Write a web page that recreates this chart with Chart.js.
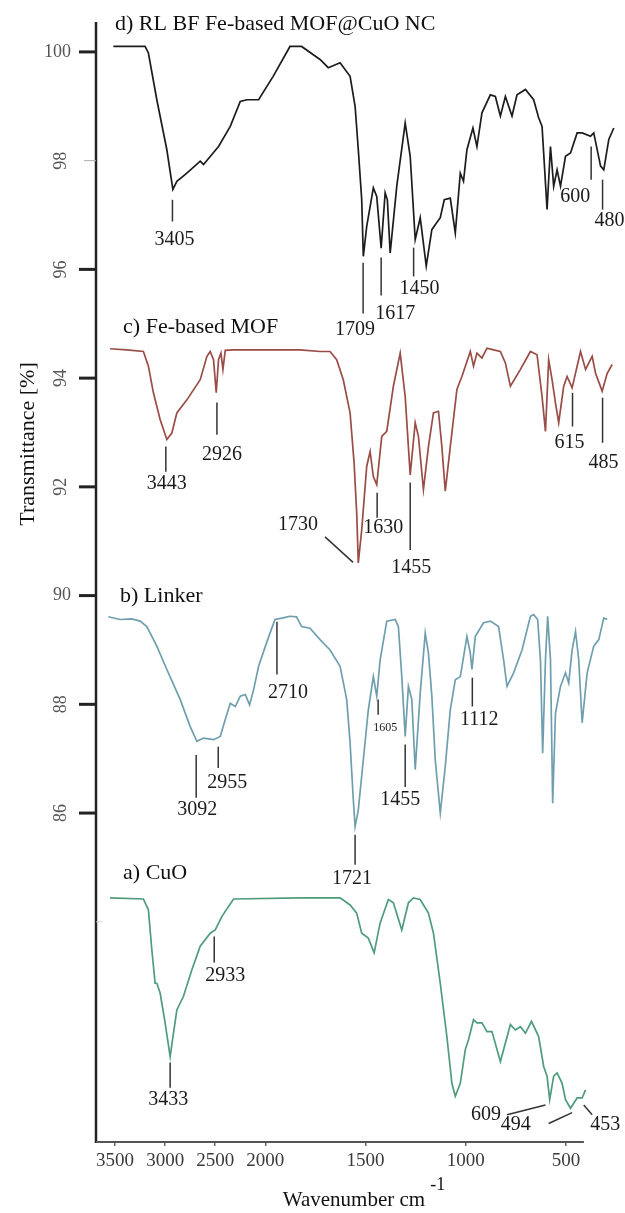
<!DOCTYPE html>
<html><head><meta charset="utf-8">
<script src="https://cdn.jsdelivr.net/npm/chart.js@4.4.1/dist/chart.umd.min.js"></script>
<style>html,body{margin:0;padding:0;background:#fff;}canvas{display:block;}</style>
</head><body>
<canvas id="c" width="625" height="1213"></canvas>
<script>
// ---- axis values ----
const TICK_WN = [3500, 3000, 2500, 2000, 1500, 1000, 500];
const Y_TICKS = [100, 98, 96, 94, 92, 90, 88, 86];
const X_RANGE_WN = [3690, 255];
const Y_RANGE = [79.95, 100.55];

// ---- series titles ----
const SERIES_NAMES = ['d) RL BF Fe-based MOF@CuO NC', 'c) Fe-based MOF', 'b) Linker', 'a) CuO'];

// ---- d) RL BF Fe-based MOF@CuO NC ----
const D_WN = [3517,3200,3167,3083,2983,2923,2883,2783,2650,2617,2467,2350,2250,2183,2067,1961,1877,1819,1727,1686,1627,1577,1552,1536,1519,1511,1494,1461,1444,1422,1402,1391,1377,1344,1302,1277,1252,1227,1197,1169,1152,1127,1107,1077,1052,1027,1011,994,964,944,919,877,852,827,802,769,744,702,661,636,619,594,577,561,544,527,502,477,444,419,377,361,327,311,286,261];
const D_T = [100.10,100.10,99.98,99.12,98.20,97.47,97.62,97.77,97.99,97.93,98.26,98.63,99.09,99.12,99.12,99.55,100.10,100.10,99.86,99.71,99.80,99.55,99.00,98.20,97.28,96.24,96.79,97.50,97.34,96.39,97.41,97.28,96.30,97.53,98.69,98.08,96.55,96.95,96.06,96.73,96.82,96.95,97.28,97.31,96.67,97.77,97.62,98.20,98.60,98.26,98.88,99.21,99.18,98.82,99.18,98.82,99.21,99.31,99.12,98.79,98.63,97.10,98.26,97.53,97.83,97.53,98.08,98.14,98.51,98.51,98.45,98.51,97.90,97.83,98.39,98.60];

// ---- c) Fe-based MOF ----
const C_WN = [3550,3383,3217,3167,3117,3050,2983,2933,2883,2783,2650,2583,2550,2517,2490,2467,2443,2423,2400,2317,2050,1827,1727,1677,1644,1611,1577,1557,1544,1536,1519,1494,1477,1461,1444,1419,1394,1361,1327,1302,1277,1252,1236,1211,1186,1161,1136,1119,1102,1077,1044,1019,977,961,944,919,894,861,827,802,777,727,677,644,619,602,586,569,552,536,511,494,469,427,402,369,352,319,294,269];
const C_T = [94.54,94.52,94.49,94.22,93.73,93.24,92.87,92.99,93.36,93.60,93.97,94.40,94.49,94.34,93.73,94.34,94.46,94.16,94.51,94.52,94.52,94.52,94.49,94.49,94.34,93.97,93.36,92.44,91.52,90.60,91.21,92.38,92.65,92.19,92.04,92.93,93.02,93.85,94.46,93.66,92.22,93.18,92.93,91.95,92.74,93.36,93.39,92.74,91.92,92.74,93.79,94.03,94.49,94.22,94.46,94.37,94.55,94.52,94.49,94.28,93.85,94.16,94.49,94.43,93.66,93.02,94.34,93.97,93.54,93.18,93.85,94.03,93.82,94.49,94.16,94.40,94.09,93.76,94.09,94.25];

// ---- b) Linker ----
const B_WN = [3567,3450,3333,3250,3183,3083,2983,2850,2750,2683,2617,2517,2450,2400,2350,2300,2250,2200,2157,2117,2067,1994,1952,1911,1877,1844,1819,1777,1727,1677,1627,1594,1577,1561,1552,1536,1511,1486,1461,1444,1427,1394,1352,1336,1319,1302,1286,1269,1252,1227,1202,1186,1169,1152,1127,1102,1077,1052,1027,994,977,969,952,911,877,836,811,794,761,719,677,661,641,627,616,602,591,577,566,552,527,502,486,469,452,436,419,394,361,336,311,294];
const B_T = [89.61,89.56,89.57,89.53,89.43,89.07,88.64,88.09,87.59,87.32,87.38,87.35,87.41,87.72,88.02,87.96,88.15,88.18,87.99,88.27,88.70,89.13,89.56,89.59,89.62,89.61,89.43,89.40,89.19,89.00,88.70,88.09,87.29,86.25,85.75,86.06,86.98,87.90,88.51,88.15,88.82,89.53,89.56,89.43,88.51,87.41,88.33,88.09,86.80,88.21,89.31,88.94,88.15,86.98,86.00,86.86,87.90,88.45,88.51,89.25,88.94,88.64,89.25,89.50,89.53,89.43,88.82,88.33,88.58,89.00,89.62,89.65,89.56,88.82,87.10,88.82,89.62,88.82,86.18,87.84,88.33,88.58,88.39,89.00,89.34,88.82,87.66,88.58,89.07,89.19,89.59,89.56];

// ---- a) CuO ----
const A_WN = [3550,3217,3167,3133,3100,3083,3050,3000,2950,2917,2883,2817,2733,2650,2550,2500,2433,2317,1827,1627,1577,1544,1519,1486,1457,1427,1386,1361,1319,1286,1261,1227,1186,1161,1127,1094,1069,1052,1027,1002,986,961,944,919,894,869,827,802,777,752,727,702,672,636,611,594,581,561,544,519,502,477,444,419,402];
const A_T = [84.44,84.42,84.22,83.49,82.87,82.87,82.69,82.14,81.52,81.95,82.38,82.63,83.12,83.55,83.79,83.85,84.10,84.42,84.44,84.44,84.31,84.16,83.79,83.70,83.43,83.98,84.41,84.35,83.85,84.35,84.44,84.41,84.16,83.79,82.87,81.89,81.03,80.79,81.03,81.65,81.83,82.20,82.14,82.14,81.98,81.98,81.43,81.77,82.11,82.01,82.07,81.95,82.17,81.89,81.34,81.16,80.73,81.16,81.22,81.03,80.73,80.57,80.76,80.76,80.91];

// ---- peak labels: text, anchor values of the leader line (wavenumber, transmittance) ----
const PEAK_TEXT = ['3405','1709','1617','1450','600','480','3443','2926','1730','1630','1455','615','485','3092','2955','2710','1605','1455','1112','1721','2933','3433','609','494','453'];
const PEAK_WN1 = [2927,1512,1422,1260,374,317,2993,2483,1562,1442,1277,467,317,2690,2470,1942,1437,1302,967,1552,2510,2950,602,469,411];
const PEAK_T1  = [97.28,96.12,96.22,96.40,98.26,97.65,92.74,93.55,90.61,91.89,92.08,93.73,93.64,87.07,87.22,89.52,88.09,87.26,88.49,85.60,83.73,81.41,80.63,80.49,80.63];
const PEAK_WN2 = [2927,1512,1422,1260,374,317,2993,2483,1702,1442,1277,467,317,2690,2470,1942,1437,1302,967,1552,2510,2950,794,586,369];
const PEAK_T2  = [96.88,95.19,95.52,95.87,97.65,97.10,92.28,92.96,91.08,91.43,90.84,93.11,92.81,86.28,86.83,88.55,87.81,86.48,87.96,85.05,83.25,80.95,80.45,80.29,80.45];

// ---- layout / style (not data) ----
const PEAK_OFFSET = [[2,18],[-8,16],[14,18],[6,12],[-16,17],[7,11],[1,12],[5,20],[-27,-12],[6,10],[1,18],[-3,16],[1,20],[1,12],[9,15],[11,18],[7,13],[-5,13],[7,13],[-3,14],[11,13],[-2,12],[-21,0],[-33,1],[13,10]];
const PEAK_SMALL = ['1605'];
const SERIES_TITLE_POS = [[3500,100.50],[3420,94.93],[3450,89.98],[3420,84.90]];
const COLORS = ['#1c1c1c','#9a4c46','#6f9fae','#4f9c7c'];
const SERIF = "'Liberation Serif','DejaVu Serif',serif";

function toAxis(wn) { return wn >= 2000 ? (3500 - wn) / 500 : 3 + (2000 - wn) / 250; }
function pts(wn, t) { return wn.map((w, i) => ({ x: toAxis(w), y: t[i] })); }

const overlay = {
  id: 'overlay',
  afterDraw(chart) {
    const ctx = chart.ctx, xs = chart.scales.x, ys = chart.scales.y, ca = chart.chartArea;
    const px = w => xs.getPixelForValue(toAxis(w));
    const py = t => ys.getPixelForValue(t);
    ctx.save();
    // axes lines
    ctx.strokeStyle = '#222'; ctx.lineWidth = 2.5;
    ctx.beginPath(); ctx.moveTo(ca.left, ca.top); ctx.lineTo(ca.left, ca.bottom + 1); ctx.stroke();
    ctx.strokeStyle = '#555'; ctx.lineWidth = 2;
    ctx.beginPath(); ctx.moveTo(ca.left, ca.bottom); ctx.lineTo(px(TICK_WN[TICK_WN.length-1]) + 18, ca.bottom); ctx.stroke();
    // y ticks
    Y_TICKS.forEach(v => {
      const y = py(v);
      const faint = v === 98;
      ctx.strokeStyle = faint ? '#aaa' : '#222';
      ctx.lineWidth = faint ? 1 : 3;
      ctx.beginPath(); ctx.moveTo(ca.left - (faint ? 12 : 17), y); ctx.lineTo(ca.left, y); ctx.stroke();
      ctx.fillStyle = '#555';
      ctx.font = '18px ' + SERIF;
      if (v === 100 || v === 90) {
        ctx.textAlign = 'right'; ctx.textBaseline = 'middle';
        ctx.fillText(String(v), ca.left - 25, y);
      } else {
        ctx.save(); ctx.translate(ca.left - 35, y); ctx.rotate(-Math.PI / 2);
        ctx.textAlign = 'center'; ctx.textBaseline = 'middle';
        ctx.fillText(String(v), 0, 0); ctx.restore();
      }
    });
    ctx.strokeStyle = '#ccc'; ctx.lineWidth = 1;
    ctx.beginPath(); ctx.moveTo(ca.left, py(84)); ctx.lineTo(ca.left + 6, py(84)); ctx.stroke();
    // series titles
    ctx.fillStyle = '#111'; ctx.font = '22px ' + SERIF; ctx.textAlign = 'left'; ctx.textBaseline = 'middle';
    SERIES_NAMES.forEach((n, i) => ctx.fillText(n, px(SERIES_TITLE_POS[i][0]), py(SERIES_TITLE_POS[i][1])));
    // peak markers
    ctx.strokeStyle = '#333'; ctx.lineWidth = 1.5;
    PEAK_TEXT.forEach((txt, i) => {
      const x1 = px(PEAK_WN1[i]), y1 = py(PEAK_T1[i]), x2 = px(PEAK_WN2[i]), y2 = py(PEAK_T2[i]);
      ctx.beginPath(); ctx.moveTo(x1, y1); ctx.lineTo(x2, y2); ctx.stroke();
      const small = PEAK_SMALL.includes(txt) && i === 16;
      ctx.font = (small ? '12px ' : '20px ') + SERIF;
      ctx.fillStyle = '#1a1a1a'; ctx.textAlign = 'center'; ctx.textBaseline = 'middle';
      ctx.fillText(txt, x2 + PEAK_OFFSET[i][0], y2 + PEAK_OFFSET[i][1]);
    });
    // axis titles
    ctx.fillStyle = '#111';
    ctx.save(); ctx.translate(28, 444); ctx.rotate(-Math.PI / 2);
    ctx.font = '22px ' + SERIF; ctx.textAlign = 'center'; ctx.textBaseline = 'middle';
    ctx.fillText('Transmittance [%]', 0, 0); ctx.restore();
    ctx.font = '21px ' + SERIF; ctx.textAlign = 'center'; ctx.textBaseline = 'alphabetic';
    const xt = 'Wavenumber cm';
    const w = ctx.measureText(xt).width;
    ctx.fillText(xt, 354, 1206);
    ctx.font = '18px ' + SERIF; ctx.textAlign = 'left'; ctx.textBaseline = 'middle';
    ctx.fillText('-1', 354 + w / 2 + 5, 1185);
    ctx.restore();
  }
};

function ds(label, wn, t, color) {
  return { label, data: pts(wn, t), borderColor: color, borderWidth: 1.7, pointRadius: 0, tension: 0, fill: false };
}

new Chart(document.getElementById('c'), {
  type: 'line',
  data: { datasets: [
    ds(SERIES_NAMES[0], D_WN, D_T, COLORS[0]),
    ds(SERIES_NAMES[1], C_WN, C_T, COLORS[1]),
    ds(SERIES_NAMES[2], B_WN, B_T, COLORS[2]),
    ds(SERIES_NAMES[3], A_WN, A_T, COLORS[3])
  ]},
  options: {
    responsive: false, animation: false, devicePixelRatio: 1, events: [],
    layout: { padding: { left: 96, top: 22, right: 10, bottom: 0 } },
    plugins: { legend: { display: false }, tooltip: { enabled: false } },
    scales: {
      x: {
        type: 'linear', min: toAxis(X_RANGE_WN[0]), max: toAxis(X_RANGE_WN[1]),
        afterFit: s => { s.height = 71; },
        afterBuildTicks: s => { s.ticks = TICK_WN.map(w => ({ value: toAxis(w) })); },
        border: { display: false },
        grid: { display: true, drawOnChartArea: false, drawTicks: true, tickLength: 4, color: '#666', lineWidth: 1.5 },
        ticks: { autoSkip: false, maxRotation: 0, padding: 4, color: '#3a3a3a', font: { family: SERIF, size: 19 },
                 callback: (v, i) => String(TICK_WN[i]) }
      },
      y: { type: 'linear', display: false, min: Y_RANGE[0], max: Y_RANGE[1] }
    }
  },
  plugins: [overlay]
});
</script>
</body></html>
